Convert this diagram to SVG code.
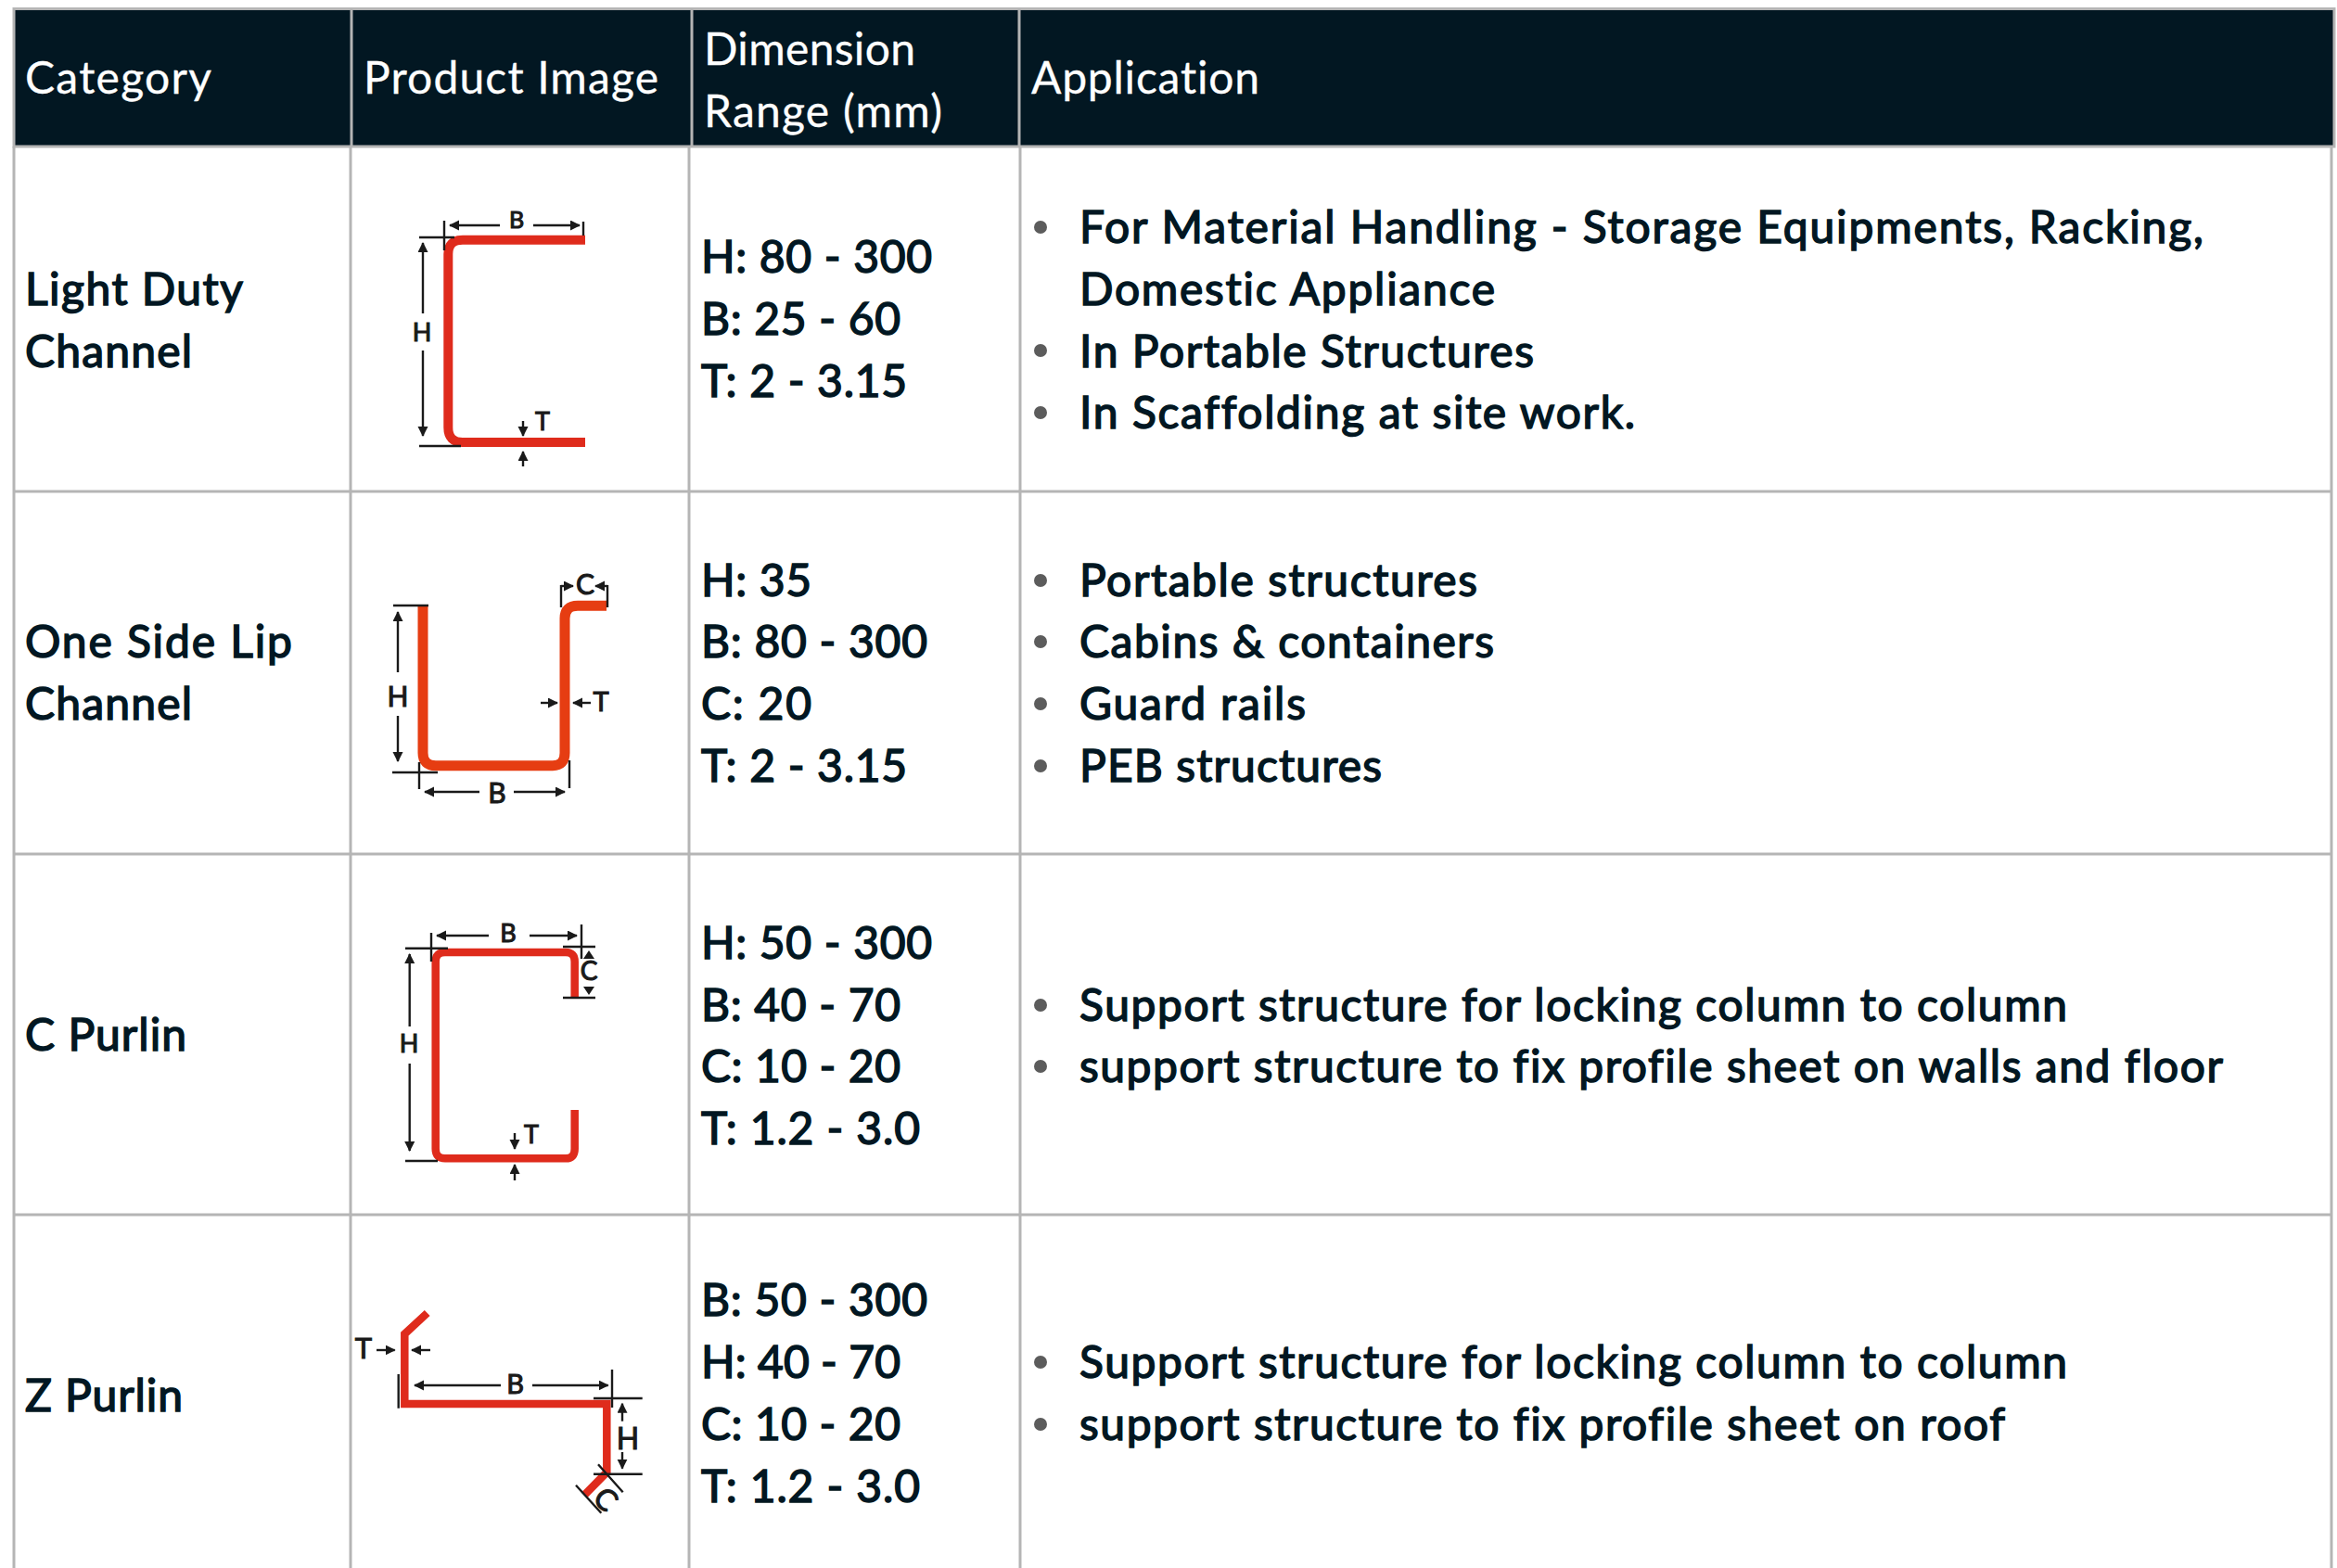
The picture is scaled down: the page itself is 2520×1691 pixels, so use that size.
<svg xmlns="http://www.w3.org/2000/svg" width="2520" height="1691" viewBox="0 0 2520 1691">
<style>
text{font-family:"Lato","Noto Sans",sans-serif;font-variant-ligatures:none}
.h{font-size:48px;fill:#fff;stroke:#fff;stroke-width:.3px}
.b{font-size:48px;fill:#021722;stroke:#021722;stroke-width:1.5px}
.g{stroke:#b5b5b5;stroke-width:3;fill:none}
.p{fill:none;stroke:#df2b1c;stroke-linejoin:miter}
.d{fill:none;stroke:#1a1a1a;stroke-width:2.4}
.a{fill:none;stroke:#1a1a1a;stroke-width:2.4;marker-end:url(#ah)}
.t{fill:#1a1a1a;stroke:#1a1a1a;stroke-width:1.1px;font-size:27px;text-anchor:middle}
.dot{fill:#5c5c5c}
</style>
<defs><marker id="ah" markerUnits="userSpaceOnUse" markerWidth="12" markerHeight="12" refX="10" refY="5.5" orient="auto"><path d="M0 0L11 5.5L0 11Z" fill="#1a1a1a"/></marker></defs>
<rect width="2520" height="1691" fill="#fff"/>
<g id="table-grid">
<rect x="15" y="9.5" width="2502" height="148.5" fill="#021722" stroke="#b5b5b5" stroke-width="3"/>
<path class="g" d="M379 9V158M746 9V158M1099 9V158M15 158V1691M378 158V1691M743 158V1691M1100 158V1691M2514 158V1691M15 530H2514M15 921H2514M15 1310H2514"/>
</g>
<g id="header">
<text class="h" x="27" y="101" textLength="201">Category</text>
<text class="h" x="392" y="101" textLength="318">Product Image</text>
<text class="h" x="759" y="70" textLength="228">Dimension</text>
<text class="h" x="759" y="137" textLength="257">Range (mm)</text>
<text class="h" x="1112" y="101" textLength="246">Application</text>
</g>
<g id="row-light-duty">
<text class="b" x="27" y="329" textLength="235">Light Duty</text><text class="b" x="27" y="396" textLength="180">Channel</text>
<text class="b" x="756" y="294" textLength="249">H: 80 - 300</text><text class="b" x="756" y="361" textLength="215">B: 25 - 60</text><text class="b" x="756" y="428" textLength="222">T: 2 - 3.15</text>
<circle class="dot" cx="1122" cy="245" r="7"/><text class="b" x="1164" y="262" textLength="1212">For Material Handling - Storage Equipments, Racking,</text>
<text class="b" x="1164" y="329" textLength="448">Domestic Appliance</text>
<circle class="dot" cx="1122" cy="378" r="7"/><text class="b" x="1164" y="396" textLength="490">In Portable Structures</text>
<circle class="dot" cx="1122" cy="445" r="7"/><text class="b" x="1164" y="462" textLength="599">In Scaffolding at site work.</text>
</g>
<g id="row-one-side-lip">
<text class="b" x="27" y="709" textLength="288">One Side Lip</text><text class="b" x="27" y="776" textLength="180">Channel</text>
<text class="b" x="756" y="643" textLength="119">H: 35</text><text class="b" x="756" y="709" textLength="244">B: 80 - 300</text><text class="b" x="756" y="776" textLength="119">C: 20</text><text class="b" x="756" y="843" textLength="222">T: 2 - 3.15</text>
<circle class="dot" cx="1122" cy="626" r="7"/><text class="b" x="1164" y="643" textLength="429">Portable structures</text>
<circle class="dot" cx="1122" cy="692" r="7"/><text class="b" x="1164" y="709" textLength="447">Cabins &amp; containers</text>
<circle class="dot" cx="1122" cy="759" r="7"/><text class="b" x="1164" y="776" textLength="244">Guard rails</text>
<circle class="dot" cx="1122" cy="826" r="7"/><text class="b" x="1164" y="843" textLength="326">PEB structures</text>
</g>
<g id="row-c-purlin">
<text class="b" x="27" y="1133" textLength="174">C Purlin</text>
<text class="b" x="756" y="1034" textLength="249">H: 50 - 300</text><text class="b" x="756" y="1101" textLength="215">B: 40 - 70</text><text class="b" x="756" y="1167" textLength="215">C: 10 - 20</text><text class="b" x="756" y="1234" textLength="236">T: 1.2 - 3.0</text>
<circle class="dot" cx="1122" cy="1084" r="7"/><text class="b" x="1164" y="1101" textLength="1065">Support structure for locking column to column</text>
<circle class="dot" cx="1122" cy="1150" r="7"/><text class="b" x="1164" y="1167" textLength="1233">support structure to fix profile sheet on walls and floor</text>
</g>
<g id="row-z-purlin">
<text class="b" x="27" y="1522" textLength="170">Z Purlin</text>
<text class="b" x="756" y="1419" textLength="244">B: 50 - 300</text><text class="b" x="756" y="1486" textLength="215">H: 40 - 70</text><text class="b" x="756" y="1553" textLength="215">C: 10 - 20</text><text class="b" x="756" y="1620" textLength="236">T: 1.2 - 3.0</text>
<circle class="dot" cx="1122" cy="1469" r="7"/><text class="b" x="1164" y="1486" textLength="1065">Support structure for locking column to column</text>
<circle class="dot" cx="1122" cy="1536" r="7"/><text class="b" x="1164" y="1553" textLength="998">support structure to fix profile sheet on roof</text>
</g>
<g id="fig-light-duty">
<path class="p" stroke-width="10" d="M631 258.7H499Q483.3 258.7 483.3 274V461Q483.3 477 499 477H631"/>
<path class="d" d="M479 238V270M629 239V254M452 256H490M452 481H497"/>
<path class="a" d="M539 243H485"/><path class="a" d="M575 243H625"/>
<path class="a" d="M456 338V262"/><path class="a" d="M456 378V470"/>
<path class="a" d="M564 454V470"/><path class="a" d="M564 503V487"/>
<text class="t" x="557" y="246" style="font-size:25px">B</text><text class="t" x="455" y="368">H</text><text class="t" x="585" y="464">T</text>
</g>
<g id="fig-one-side-lip">
<path class="p" style="stroke:#e63d12" stroke-width="11" d="M456 653V812Q456 825.7 470 825.7H596Q609 825.7 609 812V667Q609 653.3 623 653.3H654"/>
<path class="d" d="M424 653H462M423 833H472M452 822V851M614 820V850M605 631V655M655 631V655"/>
<path class="a" d="M429 725V660"/><path class="a" d="M429 772V821"/>
<path class="a" d="M517 854H458"/><path class="a" d="M554 854H609"/>
<path class="a" d="M605 632H618"/><path class="a" d="M655 632H642"/>
<path class="a" d="M583 758H601"/><path class="a" d="M637 758H618"/>
<text class="t" style="font-size:30px" x="429" y="762">H</text><text class="t" style="font-size:30px" x="536" y="866">B</text><text class="t" style="font-size:30px" x="631" y="641">C</text><text class="t" style="font-size:29px" x="648" y="767">T</text>
</g>
<g id="fig-c-purlin">
<path class="p" stroke-width="8.5" d="M619.7 1075V1037Q619.7 1027 610 1027H480Q469.7 1027 469.7 1037V1239Q469.7 1249.3 480 1249.3H610Q619.7 1249.3 619.7 1239V1197"/>
<path class="d" d="M465 1006V1037M437 1022.7H483M627 997V1034M607 1021H642M607 1076H642M437 1252H472"/>
<path class="a" d="M527 1009H471"/><path class="a" d="M571 1009H622"/>
<path class="a" d="M441.7 1107V1029"/><path class="a" d="M441.7 1147V1241"/>
<path fill="#1a1a1a" d="M635 1025L641 1034H629ZM635 1073L641 1064H629Z"/>
<path class="a" d="M555 1222V1239"/><path class="a" d="M555 1273V1256"/>
<text class="t" x="548" y="1016">B</text><text class="t" x="441" y="1135">H</text><text class="t" style="font-size:28px" x="635" y="1057">C</text><text class="t" x="573" y="1233">T</text>
</g>
<g id="fig-z-purlin">
<path class="p" stroke-width="8.5" d="M460.7 1416L436.3 1438.7V1514H654.3V1587.7L630.7 1611.7"/>
<path class="d" d="M429.7 1482V1518.7M660 1477V1518M640 1508H692.7M640 1589.7H692.7M621 1601.7L648.3 1631.7M645 1579.3L671.7 1609.3"/>
<path class="a" d="M540 1494H447"/><path class="a" d="M574 1494H655.7"/>
<path class="a" d="M406 1456H425.7"/><path class="a" d="M464 1456H444"/>
<path class="a" d="M671 1532.7V1513.7"/><path class="a" d="M671 1566V1583.7"/>
<text class="t" style="font-size:29px" x="555.7" y="1502.7">B</text><text class="t" style="font-size:31px" x="392" y="1465">T</text><text class="t" style="font-size:32px" x="677" y="1562.7">H</text>
<text class="t" style="font-size:32px" transform="translate(653 1617) rotate(45)" y="11">C</text>
</g>
</svg>
